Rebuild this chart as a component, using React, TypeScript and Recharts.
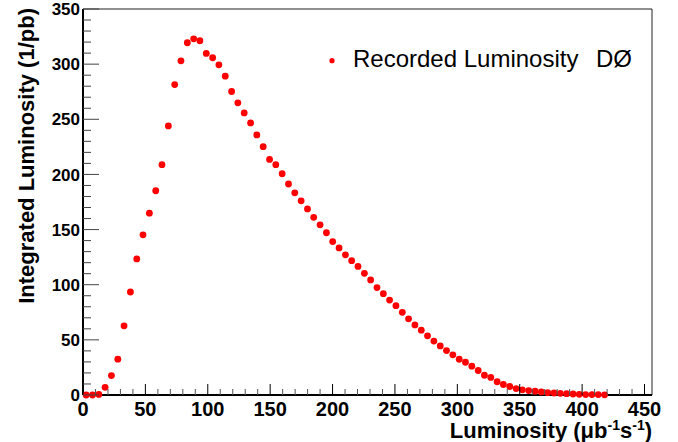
import React from "react";
import { ScatterChart, Scatter, XAxis, YAxis, ReferenceLine, Legend } from "recharts";

// bin centres (90 bins over 0-456), only the filled ones
const binCenters = [
  2.5, 7.6, 12.7, 17.7, 22.8, 27.9, 32.9, 38.0, 43.1, 48.1,
  53.2, 58.3, 63.3, 68.4, 73.5, 78.5, 83.6, 88.7, 93.7, 98.8,
  103.9, 108.9, 114.0, 119.1, 124.1, 129.2, 134.3, 139.3, 144.4, 149.5,
  154.5, 159.6, 164.7, 169.7, 174.8, 179.9, 184.9, 190.0, 195.1, 200.1,
  205.2, 210.3, 215.3, 220.4, 225.5, 230.5, 235.6, 240.7, 245.7, 250.8,
  255.9, 260.9, 266.0, 271.1, 276.1, 281.2, 286.3, 291.3, 296.4, 301.5,
  306.5, 311.6, 316.7, 321.7, 326.8, 331.9, 336.9, 342.0, 347.1, 352.1,
  357.2, 362.3, 367.3, 372.4, 377.5, 382.5, 387.6, 392.7, 397.7, 402.8,
  407.9, 412.9, 418.0,
];

// integrated luminosity (1/pb)
const recorded = [
  0, 0, 0.5, 7, 17.6, 32.5, 62.7, 93.4, 123.4, 145.2,
  164.9, 185.2, 208.8, 244, 281.5, 303, 319.4, 323, 321.2, 309.7,
  305.8, 299.4, 289.1, 275.2, 264.9, 255.8, 246.7, 235.8, 225.2, 213.6,
  208.8, 200.6, 191.3, 183.3, 176.1, 168.7, 161.1, 154.3, 147.1, 139.1,
  133.4, 127.1, 121.8, 116.6, 110.3, 104.3, 97.4, 91.9, 86.1, 81,
  75, 69.1, 63.5, 58.8, 53.7, 48.9, 44.5, 40.3, 36.4, 32.4,
  29.7, 26.1, 22.2, 17.9, 15.9, 12, 9.5, 7.7, 5.8, 4.7,
  4, 3.4, 2.8, 2.1, 1.8, 1.5, 1.2, 0.9, 0.6, 0.4,
  0.4, 0.4, 0.2,
];

const xTicks = [
  0, 10, 20, 30, 40, 50, 60, 70, 80, 90, 100, 110, 120, 130, 140, 150,
  160, 170, 180, 190, 200, 210, 220, 230, 240, 250, 260, 270, 280, 290,
  300, 310, 320, 330, 340, 350, 360, 370, 380, 390, 400, 410, 420, 430,
  440, 450,
];
const yTicks = [
  0, 10, 20, 30, 40, 50, 60, 70, 80, 90, 100, 110, 120, 130, 140, 150,
  160, 170, 180, 190, 200, 210, 220, 230, 240, 250, 260, 270, 280, 290,
  300, 310, 320, 330, 340, 350,
];

const data = binCenters.map((x, i) => ({ x, y: recorded[i] }));

const FONT = '"Liberation Sans", Arial, Helvetica, sans-serif';
const RED = "#ff0000";

const YTick = ({ x, y, payload }: any) => {
  const major = payload.value % 50 === 0;
  const ax = x + 3;
  return (
    <g>
      <line x1={ax} x2={ax + (major ? 16 : 8)} y1={y} y2={y} stroke="#444" />
      {major && (
        <text x={x} y={y} dy="0.36em" textAnchor="end" fontFamily={FONT}
          fontWeight="bold" fontSize={17} fill="#000">
          {payload.value}
        </text>
      )}
    </g>
  );
};

const XTick = ({ x, y, payload }: any) => {
  const major = payload.value % 50 === 0;
  return (
    <g>
      <line x1={x} x2={x} y1={y} y2={y - (major ? 11 : 6)} stroke={major ? "#000" : "#555"} />
      {major && (
        <text x={x} y={y + 21} textAnchor="middle" fontFamily={FONT}
          fontWeight="bold" fontSize={20} fill="#000">
          {payload.value}
        </text>
      )}
    </g>
  );
};

const YTitle = ({ viewBox }: any) => {
  const x = viewBox.x + 11;
  const y = viewBox.y - 1;
  return (
    <text x={x} y={y} transform={`rotate(-90, ${x}, ${y})`} textAnchor="end"
      fontFamily={FONT} fontWeight="bold" fontSize={22} fill="#000">
      Integrated Luminosity (1/pb)
    </text>
  );
};

const XTitle = ({ viewBox }: any) => (
  <text x={viewBox.x + viewBox.width} y={viewBox.y + 43} textAnchor="end"
    fontFamily={FONT} fontWeight="bold" fontSize={22} fill="#000">
    Luminosity (μb
    <tspan dy={-8} fontSize={14}>-1</tspan>
    <tspan dy={8}>s</tspan>
    <tspan dy={-8} fontSize={14}>-1</tspan>
    <tspan dy={8}>)</tspan>
  </text>
);

const LegendBox = () => (
  <svg width={678} height={100} style={{ display: "block" }}>
    <circle cx={332} cy={60.7} r={2.6} fill={RED} />
    <text x={353} y={67} fontFamily={FONT} fontSize={24} fill="#000">
      Recorded Luminosity
      <tspan x={596}>DØ</tspan>
    </text>
  </svg>
);

const Dot = (props: any) => <circle cx={props.cx} cy={props.cy} r={3.4} fill={RED} />;

export default function App() {
  return (
    <div style={{ position: "absolute", left: 0, top: 0, background: "#fff" }}>
      <ScatterChart width={678} height={442} margin={{ top: 9, right: 26, bottom: 17, left: 23 }}>
        <XAxis type="number" dataKey="x" domain={[0, 456]} ticks={xTicks} interval={0}
          tickSize={0} tickMargin={0} height={30} tick={<XTick />}
          axisLine={{ stroke: "#000", strokeWidth: 2 }} label={{ content: <XTitle /> }} />
        <YAxis type="number" dataKey="y" domain={[0, 350]} ticks={yTicks} interval={0}
          tickSize={0} tickMargin={3} width={60} tick={<YTick />}
          axisLine={{ stroke: "#000", strokeWidth: 2 }} label={{ content: <YTitle /> }} />
        <ReferenceLine y={350} stroke="#222" strokeWidth={1} />
        <ReferenceLine x={456} stroke="#222" strokeWidth={1} />
        <Legend layout="horizontal" verticalAlign="middle"
          wrapperStyle={{ left: 0, top: 0, width: 678, height: 100 }}
          content={<LegendBox />} />
        <Scatter data={data} shape={<Dot />} isAnimationActive={false} />
      </ScatterChart>
    </div>
  );
}
